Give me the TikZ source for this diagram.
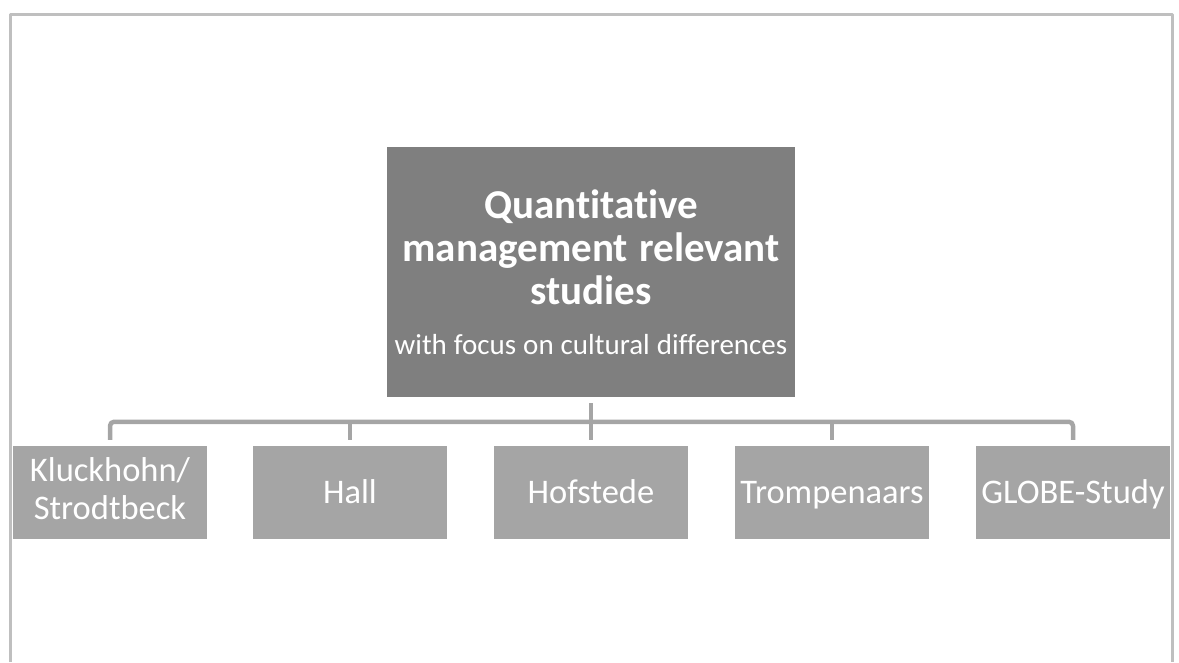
\documentclass[tikz,border=0pt]{standalone}
\usepackage{fontspec}
\setmainfont{Carlito}[Ligatures=NoCommon]
\usetikzlibrary{positioning,calc}
\definecolor{framegray}{HTML}{BFBFBF}
\definecolor{topgray}{HTML}{7F7F7F}
\definecolor{childgray}{HTML}{A5A5A5}
\newcommand{\labelstrut}{\rule[-9pt]{0pt}{39pt}}
\newcommand{\widespace}{\spaceskip=0.28em\relax\hyphenpenalty=10000\relax}
\tikzset{
  topbox/.style={fill=topgray, text=white, minimum width=408pt, minimum height=250pt, text width=408pt, align=center, inner sep=0pt},
  childbox/.style={fill=childgray, text=white, minimum width=194pt, minimum height=93pt, align=center, inner sep=0pt, font=\fontsize{34.5}{38}\selectfont},
  link/.style={draw=childgray, line width=4.5pt}
}
\begin{document}
\begin{tikzpicture}[x=1pt, y=-1pt, line join = round]

    % page and frame
    \useasboundingbox (0,0) rectangle (1179,662);
    \draw[framegray, line width=3pt] (10,662) -- (10,14) -- (1172,14) -- (1172,662);

    % main study node
    \node[topbox] (top) at (591,272) {%
        {\fontsize{41}{43}\selectfont\bfseries\widespace Quantitative\\ management relevant\\ studies\par}
        \vspace{14pt}
        {\fontsize{29}{36}\selectfont\spaceskip=0.24em\relax\makebox[\linewidth]{with focus on cultural differences}\par}};

    % the five studies
    \foreach \name/\xpos/\txt in {kluck/110/{\strut Kluckhohn/\\\strut Strodtbeck}, hall/350/\labelstrut Hall, hofst/591/\labelstrut Hofstede, tromp/832/\labelstrut Trompenaars, globe/1073/\labelstrut GLOBE-Study}
        \node[childbox] (\name) at (\xpos,492.5) {\txt};

    % connectors
    \draw[link] ([yshift=-6pt]top.south) -- ([yshift=6pt]hofst.north);
    \draw[link, rounded corners=4pt] ([yshift=6pt]kluck.north) -- ++(0,-18) -| ([yshift=6pt]globe.north);
    \draw[link] ([yshift=6pt]hall.north) -- ++(0,-18);
    \draw[link] ([yshift=6pt]tromp.north) -- ++(0,-18);

\end{tikzpicture}
\end{document}
